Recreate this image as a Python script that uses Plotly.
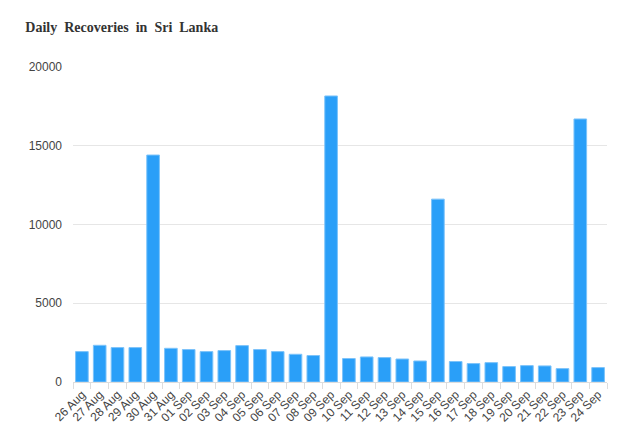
import plotly.graph_objects as go

dates = ["26 Aug", "27 Aug", "28 Aug", "29 Aug", "30 Aug", "31 Aug", "01 Sep", "02 Sep",
         "03 Sep", "04 Sep", "05 Sep", "06 Sep", "07 Sep", "08 Sep", "09 Sep", "10 Sep",
         "11 Sep", "12 Sep", "13 Sep", "14 Sep", "15 Sep", "16 Sep", "17 Sep", "18 Sep",
         "19 Sep", "20 Sep", "21 Sep", "22 Sep", "23 Sep", "24 Sep"]
recoveries = [1930, 2330, 2185, 2185, 14410, 2140, 2060, 1930,
              1995, 2310, 2060, 1930, 1760, 1680, 18160, 1490,
              1590, 1550, 1460, 1335, 11610, 1300, 1170, 1230,
              980, 1040, 1020, 850, 16700, 915]
yticks = [0, 5000, 10000, 15000, 20000]

fig = go.Figure(go.Bar(
    x=dates, y=recoveries,
    marker=dict(color="#2a9ff8", line=dict(color="#7cc3fa", width=1)),
))

fig.update_layout(
    width=633, height=439,
    margin=dict(l=73, r=26, t=67, b=57),
    paper_bgcolor="white", plot_bgcolor="white",
    bargap=0.29,
    showlegend=False,
    title=dict(text="<b>Daily  Recoveries  in  Sri  Lanka</b>", x=0.04, xanchor="left",
               y=1 - 27 / 439, yanchor="middle",
               font=dict(family="Liberation Serif", size=14, color="#333333")),
    font=dict(family="Liberation Sans", size=12, color="#444444"),
)
fig.update_yaxes(range=[0, 20000], tickvals=yticks, ticktext=[str(v) for v in yticks],
                 showgrid=True, gridcolor="#e6e6e6", gridwidth=1, zeroline=False,
                 showline=False, ticks="", ticklabelstandoff=10,
                 tickfont=dict(size=12, color="#444444"))
fig.update_xaxes(tickangle=-45, showline=True, linecolor="#dddddd", linewidth=1,
                 ticks="outside", tickson="boundaries", ticklen=6, tickcolor="#dddddd",
                 showgrid=False, tickfont=dict(size=12, color="#444444"))

fig.write_html("out.html")
